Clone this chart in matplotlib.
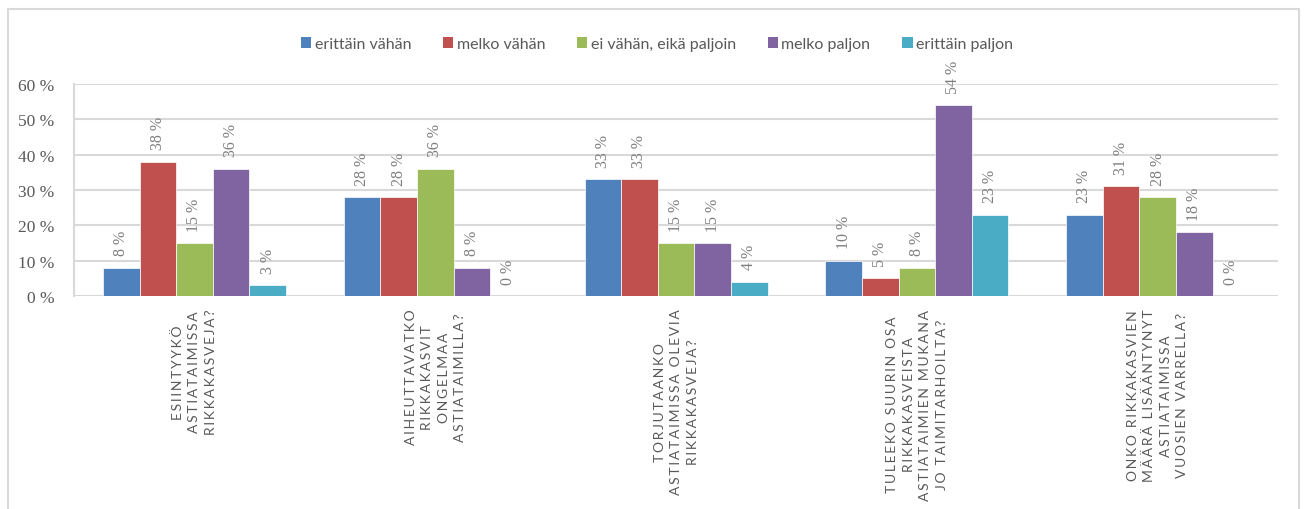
import matplotlib.pyplot as plt
from matplotlib.patches import Patch, Rectangle

series = ["erittäin vähän", "melko vähän", "ei vähän, eikä paljoin", "melko paljon", "erittäin paljon"]
colors = ["#4F81BD", "#C0504D", "#9BBB59", "#8064A2", "#4BACC6"]

questions = [
    "ESIINTYYKÖ\nASTIATAIMISSA\nRIKKAKASVEJA?",
    "AIHEUTTAVATKO\nRIKKAKASVIT\nONGELMAA\nASTIATAIMILLA?",
    "TORJUTAANKO\nASTIATAIMISSA OLEVIA\nRIKKAKASVEJA?",
    "TULEEKO SUURIN OSA\nRIKKAKASVEISTA\nASTIATAIMIEN MUKANA\nJO TAIMITARHOILTA?",
    "ONKO RIKKAKASVIEN\nMÄÄRÄ LISÄÄNTYNYT\nASTIATAIMISSA\nVUOSIEN VARRELLA?",
]

# prosentit, yksi lista per vastausvaihtoehto
erittain_vahan = [8, 28, 33, 10, 23]
melko_vahan = [38, 28, 33, 5, 31]
ei_vahan_eika_paljoin = [15, 36, 15, 8, 28]
melko_paljon = [36, 8, 15, 54, 18]
erittain_paljon = [3, 0, 4, 23, 0]
values = [erittain_vahan, melko_vahan, ei_vahan_eika_paljoin, melko_paljon, erittain_paljon]

yticks = [0, 10, 20, 30, 40, 50, 60]


def spaced(text):
    # harvennettu kirjainväli, sanaväli hieman leveämpi
    lines = []
    for line in text.split("\n"):
        words = ["\u2009".join(w) for w in line.split(" ")]
        lines.append("\u2009 \u2009".join(words))
    return "\n".join(lines)


fig = plt.figure(figsize=(13.06, 5.10), dpi=100)
ax = fig.add_axes([0.0567, 0.4176, 0.9219, 0.4157])

# ulkoreunus
fig.patches.append(Rectangle((0.0061, -0.05), 0.9885, 1.03, transform=fig.transFigure,
                             fill=False, edgecolor="#d9d9d9", linewidth=1.5))

width = 0.152
for j, vals in enumerate(values):
    xs = [i + (j - 2) * width for i in range(len(questions))]
    ax.bar(xs, vals, width=width, color=colors[j], edgecolor="white", linewidth=0.5,
           zorder=3, label=series[j])
    for x, v in zip(xs, vals):
        ax.annotate(f"{v} %", xy=(x, v), xytext=(0, 9), textcoords="offset points",
                    rotation=90, ha="center", va="bottom", fontsize=11.5,
                    family="Liberation Serif", color="#7f7f7f")

ax.set_xlim(-0.5, len(questions) - 0.5)
ax.set_ylim(0, 60)
ax.set_yticks(yticks)
ax.set_yticklabels([f"{t} %" for t in yticks], family="Liberation Serif",
                   fontsize=12.5, color="#595959")
ax.set_xticks([])
ax.tick_params(axis="y", length=0, pad=14)
ax.yaxis.grid(True, color="#d9d9d9", linewidth=1.5, zorder=0)
for side in ["top", "right", "bottom"]:
    ax.spines[side].set_visible(False)
ax.spines["left"].set_color("#d9d9d9")
ax.spines["left"].set_linewidth(1.5)

for i, q in enumerate(questions):
    ax.annotate(spaced(q), xy=(i, 0), xycoords=ax.get_xaxis_transform(),
                xytext=(0, -9), textcoords="offset points", rotation=90,
                ha="center", va="top", multialignment="center", linespacing=1.45,
                fontsize=10, family=["Lato", "DejaVu Sans"], color="#595959")

handles = [Patch(facecolor=c) for c in colors]
fig.legend(handles, series, loc="center", bbox_to_anchor=(0.503, 0.912), ncol=5,
           frameon=False, handlelength=0.65, handleheight=0.65, handletextpad=0.2,
           columnspacing=2.0, prop={"family": "Lato", "size": 11.5},
           labelcolor="#595959")

fig.savefig("out.png", dpi=100, facecolor="white")
